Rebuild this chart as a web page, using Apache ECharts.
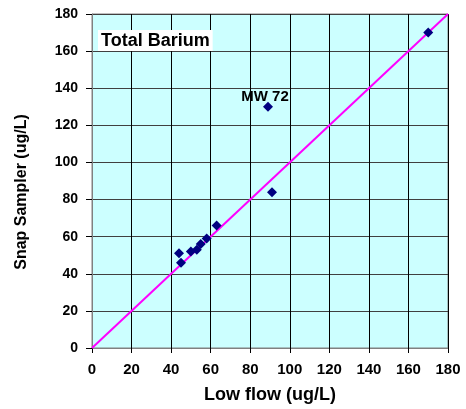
<!DOCTYPE html>
<html><head><meta charset="utf-8">
<script src="https://cdn.jsdelivr.net/npm/echarts@6/dist/echarts.min.js"></script>
<style>html,body{margin:0;padding:0;background:#fff}#c{width:466px;height:409px}</style>
</head><body><div id="c"></div>
<script>
const lowFlow = [44, 45, 50, 53, 55, 58, 63, 89, 91, 170];
const snap    = [51, 46, 52, 53, 56, 59, 66, 130, 84, 170];
const pointLabels = ['', '', '', '', '', '', '', 'MW 72', '', ''];
const lineX = [0, 180];
const axisTicks = [0, 20, 40, 60, 80, 100, 120, 140, 160, 180];

const font = 'Liberation Sans, Arial, sans-serif';
const chart = echarts.init(document.getElementById('c'));
const pts = lowFlow.map((x, i) => [x, snap[i]]);
chart.setOption({
  animation: false,
  title: { text: 'Total Barium', left: 98, top: 30, backgroundColor: '#fff', padding: [2, 3, 1, 3],
    textStyle: { fontSize: 18, fontWeight: 'bold', color: '#000', fontFamily: font } },
  grid: { left: 92, right: 18, top: 14, bottom: 60, show: true, backgroundColor: '#ccffff', borderColor: '#808080', borderWidth: 1 },
  xAxis: { type: 'value', min: axisTicks[0], max: axisTicks[axisTicks.length - 1], interval: 20,
    name: 'Low flow (ug/L)', nameLocation: 'middle', nameGap: 38,
    nameTextStyle: { fontSize: 18, fontWeight: 'bold', color: '#000', fontFamily: font },
    axisLine: { lineStyle: { color: '#808080' } },
    axisTick: { show: true, length: 5, lineStyle: { color: '#000' } },
    axisLabel: { fontSize: 15, fontWeight: 'bold', color: '#000', fontFamily: font, margin: 14 },
    splitLine: { lineStyle: { color: '#000', width: 1 } } },
  yAxis: { type: 'value', min: axisTicks[0], max: axisTicks[axisTicks.length - 1], interval: 20,
    name: 'Snap Sampler (ug/L)', nameLocation: 'middle', nameGap: 62,
    nameTextStyle: { fontSize: 16, fontWeight: 'bold', color: '#000', fontFamily: font, padding: [0, 22, 0, 0] },
    axisLine: { show: true, lineStyle: { color: '#808080' } },
    axisTick: { show: true, length: 6, lineStyle: { color: '#000' } },
    axisLabel: { fontSize: 14, fontWeight: 'bold', color: '#000', fontFamily: font, margin: 14 },
    splitLine: { lineStyle: { color: '#404040', width: 1 } } },
  series: [
    { type: 'line', data: lineX.map(v => [v, v]), symbol: 'none', lineStyle: { color: '#ff00ff', width: 2 }, z: 2, silent: true },
    { type: 'scatter', data: pts, symbol: 'diamond', symbolSize: 10, itemStyle: { color: '#000080', opacity: 1 }, z: 3,
      label: { show: true, formatter: p => pointLabels[p.dataIndex], position: 'top', distance: 0, offset: [-3, 3],
        color: '#000', opacity: 1, textBorderWidth: 0, fontWeight: 'bold', fontSize: 15, fontFamily: font } }
  ]
});
</script></body></html>
